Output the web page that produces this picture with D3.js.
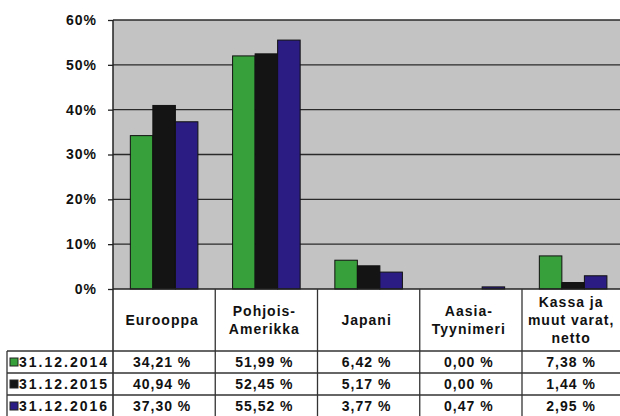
<!DOCTYPE html>
<html><head><meta charset="utf-8">
<script src="https://cdn.jsdelivr.net/npm/d3@7"></script>
<style>
html,body{margin:0;padding:0;background:#fff;}
svg text{font-family:"Liberation Sans",Arial,sans-serif;font-weight:bold;fill:#111;}
</style></head>
<body>
<svg id="c" width="620" height="416"></svg>
<script>
const categories = ["Eurooppa", "Pohjois-Amerikka", "Japani", "Aasia-Tyynimeri", "Kassa ja muut varat, netto"];
const categoryLines = [["Eurooppa"], ["Pohjois-", "Amerikka"], ["Japani"], ["Aasia-", "Tyynimeri"], ["Kassa ja", "muut varat,", "netto"]];
const seriesNames = ["31.12.2014", "31.12.2015", "31.12.2016"];
const values2014 = [34.21, 51.99, 6.42, 0.00, 7.38];
const values2015 = [40.94, 52.45, 5.17, 0.00, 1.44];
const values2016 = [37.30, 55.52, 3.77, 0.47, 2.95];
const yTicks = [0, 10, 20, 30, 40, 50, 60];
const colors = ["#37a03a", "#141414", "#2a1c82"];

const seriesValues = [values2014, values2015, values2016];
const svg = d3.select("#c");

const plotLeft = 113, plotRight = 624.25, plotTop = 20, plotBottom = 289;
const x0 = d3.scaleBand().domain(categories).range([plotLeft, plotRight]).padding(0);
const x1 = d3.scaleBand().domain(seriesNames).range([0, x0.bandwidth()]).paddingInner(0).paddingOuter(0.77);
const y = d3.scaleLinear().domain([0, 60]).range([plotBottom, plotTop]);

// plot background
svg.append("rect").attr("x", plotLeft).attr("y", plotTop)
  .attr("width", 620 - plotLeft).attr("height", plotBottom - plotTop)
  .attr("fill", "#c3c3c3");

// gridlines
svg.append("g").selectAll("line").data(yTicks.filter(d => d > 0)).join("line")
  .attr("x1", plotLeft).attr("x2", 620)
  .attr("y1", d => y(d)).attr("y2", d => y(d))
  .attr("stroke", "#2a2a2a").attr("stroke-width", 1.3);

// bars
const groups = svg.append("g").selectAll("g").data(categories).join("g")
  .attr("transform", d => `translate(${x0(d)},0)`);
groups.selectAll("rect").data((c, i) => seriesNames.map((s, j) => ({s, j, v: seriesValues[j][i]})))
  .join("rect")
  .attr("x", d => x1(d.s)).attr("width", x1.bandwidth())
  .attr("y", d => y(d.v)).attr("height", d => y(0) - y(d.v))
  .attr("fill", d => colors[d.j])
  .attr("stroke", "#111").attr("stroke-width", 1);

// y axis
const yAxis = d3.axisLeft(y).tickValues(yTicks).tickSize(5).tickPadding(11).tickFormat(d => d + "%");
const ga = svg.append("g").attr("transform", `translate(${plotLeft},0)`).call(yAxis);
ga.select(".domain").remove();
ga.selectAll(".tick line").attr("stroke", "#222").attr("stroke-width", 1.3);
ga.selectAll(".tick text").style("font-size", "14px").style("letter-spacing", "1px")
  .attr("fill", "#111").style("font-family", '"Liberation Sans",Arial,sans-serif').style("font-weight", "bold");
svg.append("line").attr("x1", plotLeft).attr("x2", plotLeft).attr("y1", plotTop).attr("y2", 416)
  .attr("stroke", "#222").attr("stroke-width", 1.5);
svg.append("line").attr("x1", plotLeft).attr("x2", 620).attr("y1", plotBottom).attr("y2", plotBottom)
  .attr("stroke", "#222").attr("stroke-width", 1.5);

// table
const rowLines = [351, 373, 395];
const rowCenters = [362, 384, 406];
const tableLeft = 7;
const tg = svg.append("g");
// column dividers
tg.selectAll("line.col").data(categories.slice(1)).join("line")
  .attr("x1", d => x0(d)).attr("x2", d => x0(d)).attr("y1", plotBottom).attr("y2", 416)
  .attr("stroke", "#333").attr("stroke-width", 1.3);
// row lines
rowLines.forEach((ry, i) => {
  tg.append("line").attr("x1", tableLeft).attr("x2", 620).attr("y1", ry).attr("y2", ry)
    .attr("stroke", "#333").attr("stroke-width", 1.3);
});
tg.append("line").attr("x1", tableLeft).attr("x2", tableLeft).attr("y1", rowLines[0]).attr("y2", 416)
  .attr("stroke", "#333").attr("stroke-width", 1.3);

// header text
const headerCenter = 320;
const lineH = 18;
categories.forEach((c, i) => {
  const lines = categoryLines[i];
  const start = headerCenter - (lines.length - 1) * lineH / 2;
  const t = tg.append("text").attr("text-anchor", "middle")
    .style("font-size", "14px").style("letter-spacing", "1px");
  lines.forEach((ln, k) => {
    t.append("tspan").attr("x", x0(c) + x0.bandwidth() / 2 - 2).attr("y", start + k * lineH)
      .attr("dy", "0.35em").text(ln);
  });
});

// data rows
const fmt = v => v.toFixed(2).replace(".", ",") + " %";
seriesNames.forEach((s, j) => {
  tg.append("rect").attr("x", 10).attr("y", rowCenters[j] - 4).attr("width", 8).attr("height", 8)
    .attr("fill", colors[j]).attr("stroke", "#222").attr("stroke-width", 1);
  tg.append("text").attr("x", 19).attr("y", rowCenters[j]).attr("dy", "0.36em")
    .style("font-size", "14px").style("letter-spacing", "2px").text(s);
  categories.forEach((c, i) => {
    tg.append("text").attr("x", x0(c) + x0.bandwidth() / 2 - 2).attr("y", rowCenters[j]).attr("dy", "0.36em")
      .attr("text-anchor", "middle").style("font-size", "14px").style("letter-spacing", "1px")
      .text(fmt(seriesValues[j][i]));
  });
});
</script>
</body></html>
